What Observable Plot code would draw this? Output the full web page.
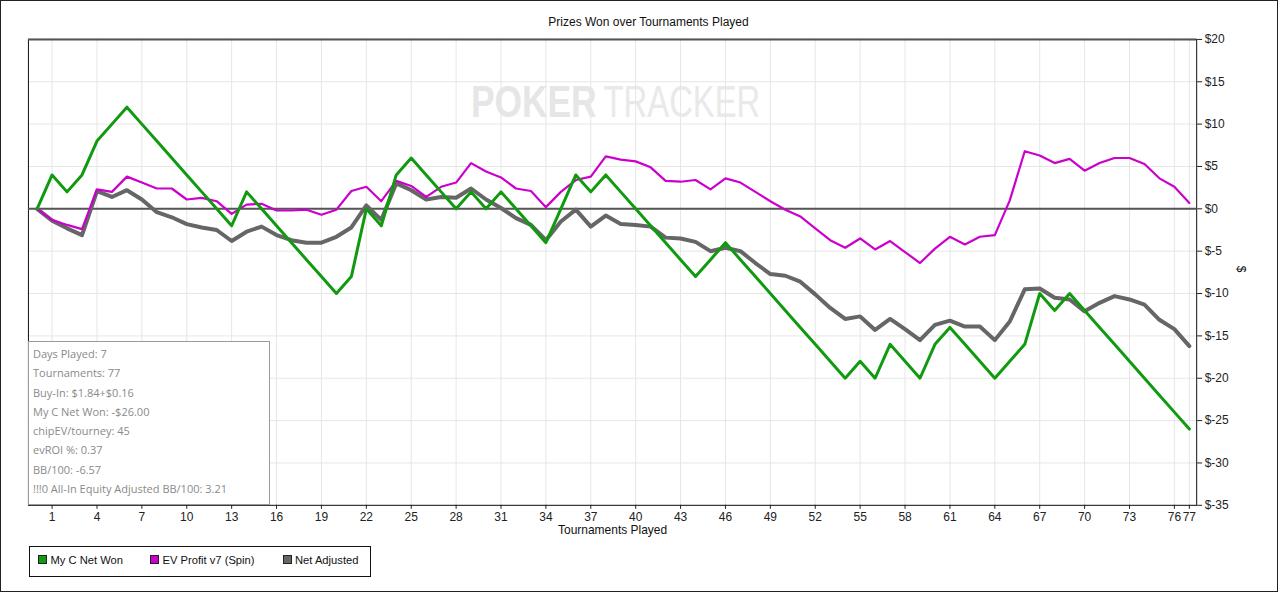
<!DOCTYPE html>
<html><head><meta charset="utf-8">
<script src="https://cdn.jsdelivr.net/npm/d3@7"></script>
<script src="https://cdn.jsdelivr.net/npm/@observablehq/plot@0.6"></script>
<style>
html,body{margin:0;padding:0;background:#fff;}
#wrap{position:relative;width:1278px;height:592px;border:1px solid #222;box-sizing:border-box;overflow:hidden;font-family:"Liberation Sans",Arial,sans-serif;background:#fff;}
#title{position:absolute;top:14px;left:-1px;width:1297px;text-align:center;font-size:12px;line-height:14px;color:#111;}
#chart{position:absolute;left:-1px;top:-1px;}
#stats{position:absolute;left:27px;top:340px;width:242px;height:164px;border:1px solid #9a9a9a;background:#fff;box-sizing:border-box;font-family:"Open Sans","Noto Sans",sans-serif;font-size:11px;color:#8a8a8a;padding:2px 0 0 4px;line-height:19.3px;white-space:nowrap;}
#legend{position:absolute;left:28px;top:545px;width:342px;height:31px;border:1px solid #111;box-sizing:border-box;}
.li{position:absolute;top:6px;font-size:11.2px;line-height:14px;color:#111;white-space:nowrap;}
.sw{display:inline-block;width:7px;height:7px;border:1px solid #222;margin-right:3.5px;vertical-align:0px;}
</style>
</head><body>
<div id="wrap">
  <div id="title">Prizes Won over Tournaments Played</div>
  <div id="chart"></div>
  <div id="stats"></div>
  <div id="legend"></div>
</div>
<script>
// ---- data ----
const tournaments = [0,1,2,3,4,5,6,7,8,9,10,11,12,13,14,15,16,17,18,19,20,21,22,23,24,25,26,27,28,29,30,31,32,33,34,35,36,37,38,39,40,41,42,43,44,45,46,47,48,49,50,51,52,53,54,55,56,57,58,59,60,61,62,63,64,65,66,67,68,69,70,71,72,73,74,75,76,77];
const netWon = [0,4,2,4,8,10,12,10,8,6,4,2,0,-2,2,0,-2,-4,-6,-8,-10,-8,0,-2,4,6,4,2,0,2,0,2,0,-2,-4,0,4,2,4,2,0,-2,-4,-6,-8,-6,-4,-6,-8,-10,-12,-14,-16,-18,-20,-18,-20,-16,-18,-20,-16,-14,-16,-18,-20,-18,-16,-10,-12,-10,-12,-14,-16,-18,-20,-22,-24,-26];
const evProfit = [0,-1.3,-1.9,-2.4,2.3,2.0,3.8,3.1,2.4,2.4,1.1,1.3,0.9,-0.6,0.5,0.6,-0.2,-0.2,-0.1,-0.7,-0.1,2.1,2.6,0.9,3.3,2.7,1.4,2.6,3.1,5.4,4.4,3.7,2.4,2.1,0.2,2.0,3.4,3.8,6.2,5.8,5.6,4.9,3.3,3.2,3.4,2.3,3.6,3.1,2.0,0.9,-0.1,-0.9,-2.3,-3.7,-4.6,-3.5,-4.8,-3.8,-5.1,-6.4,-4.7,-3.3,-4.2,-3.3,-3.1,1.0,6.8,6.3,5.4,5.9,4.5,5.4,6.0,6.0,5.3,3.6,2.6,0.7];
const netAdjusted = [0,-1.4,-2.3,-3.1,2.1,1.4,2.2,1.1,-0.4,-1.0,-1.8,-2.2,-2.5,-3.8,-2.7,-2.1,-3.1,-3.7,-4.0,-4.0,-3.3,-2.2,0.4,-1.3,3.0,2.2,1.1,1.4,1.3,2.4,1.1,0.1,-1.1,-1.9,-3.7,-1.5,-0.1,-2.1,-0.8,-1.8,-1.9,-2.1,-3.4,-3.5,-3.9,-5.0,-4.6,-5.0,-6.4,-7.7,-7.9,-8.6,-10.1,-11.7,-13.0,-12.7,-14.3,-13.0,-14.2,-15.5,-13.7,-13.2,-13.9,-13.9,-15.5,-13.3,-9.5,-9.4,-10.5,-10.7,-12.1,-11.1,-10.3,-10.7,-11.3,-13.1,-14.2,-16.2];
const xTicks = [1,4,7,10,13,16,19,22,25,28,31,34,37,40,43,46,49,52,55,58,61,64,67,70,73,76,77];
const yTicks = [-35,-30,-25,-20,-15,-10,-5,0,5,10,15,20];
const seriesNames = ["My C Net Won","EV Profit v7 (Spin)","Net Adjusted"];
const seriesColors = ["#109a10","#cc00cc","#666666"];
const statsLines = ["Days Played: 7","Tournaments: 77","Buy-In: $1.84+$0.16","My C Net Won: -$26.00","chipEV/tourney: 45","evROI %: 0.37","BB/100: -6.57","!!!0 All-In Equity Adjusted BB/100: 3.21"];
const watermark = ["POKER", "TRACKER"];

const rows = tournaments.map((t,i)=>({t, won: netWon[i], ev: evProfit[i], adj: netAdjusted[i]}));

const chart = Plot.plot({
  width: 1280, height: 545,
  marginTop: 39, marginBottom: 39, marginLeft: 28, marginRight: 81,
  x: {domain: [-0.58, 77.49]},
  y: {domain: [-35, 20]},
  style: {fontFamily: "'Liberation Sans', Arial, sans-serif", fontSize: "12px", color: "#222", background: "transparent", overflow: "visible"},
  marks: [
    Plot.text([watermark[0]], {text: d=>d, frameAnchor: "top", dx: -16, dy: 47, textAnchor: "end", fontSize: 44, fontWeight: "bold", fill: "#e6e6e6"}),
    Plot.text([watermark[1]], {text: d=>d, frameAnchor: "top", dx: -9, dy: 47, textAnchor: "start", fontSize: 44, fill: "#e9e9e9"}),
    Plot.gridX(xTicks, {stroke: "#e6e6e6", strokeOpacity: 1}),
    Plot.gridY(yTicks, {stroke: "#e6e6e6", strokeOpacity: 1}),
    Plot.frame({stroke: "#111"}),
    Plot.ruleY([20], {stroke: "#555", strokeWidth: 2}),
    Plot.ruleY([0], {stroke: "#555", strokeWidth: 2}),
    Plot.line(rows, {x: "t", y: "adj", stroke: seriesColors[2], strokeWidth: 4}),
    Plot.line(rows, {x: "t", y: "ev", stroke: seriesColors[1], strokeWidth: 2.2}),
    Plot.line(rows, {x: "t", y: "won", stroke: seriesColors[0], strokeWidth: 3}),
    Plot.axisX({ticks: xTicks, tickSize: 4, tickPadding: 3, label: null, tickFormat: d => String(d)}),
    Plot.axisY({anchor: "right", ticks: yTicks, tickSize: 5, tickPadding: 3, label: null, tickFormat: d => "$" + d}),
    Plot.text(["Tournaments Played"], {text: d=>d, frameAnchor: "bottom", dy: 29, fill: "#111"}),
    Plot.text(["$"], {text: d=>d, frameAnchor: "right", dx: 44, rotate: 90, fill: "#111"})
  ]
});
document.getElementById("chart").appendChild(chart);

// condense watermark horizontally around its anchor edge (real geometry, no overlap)
const wmTargets = {[watermark[0]]: {w: 126, edge: "right"}, [watermark[1]]: {w: 157, edge: "left"}};
d3.select(chart).selectAll("text").each(function(){
  const cfg = wmTargets[this.textContent];
  if (!cfg) return;
  const bb = this.getBBox();
  const s = cfg.w / bb.width;
  const ax = cfg.edge === "right" ? bb.x + bb.width : bb.x;
  const prev = this.getAttribute("transform") || "";
  this.setAttribute("transform", `${prev} translate(${ax},0) scale(${s},1) translate(${-ax},0)`.trim());
});

// stats box
const stats = d3.select("#stats");
statsLines.forEach(s => stats.append("div").text(s));

// legend
const legendLeft = [8, 120, 252.5];
const legend = d3.select("#legend");
seriesNames.forEach((n,i) => {
  const it = legend.append("div").attr("class","li").style("left", legendLeft[i] + "px");
  it.append("span").attr("class","sw").style("background", seriesColors[i]);
  it.append("span").text(n);
});
</script>
</body></html>
